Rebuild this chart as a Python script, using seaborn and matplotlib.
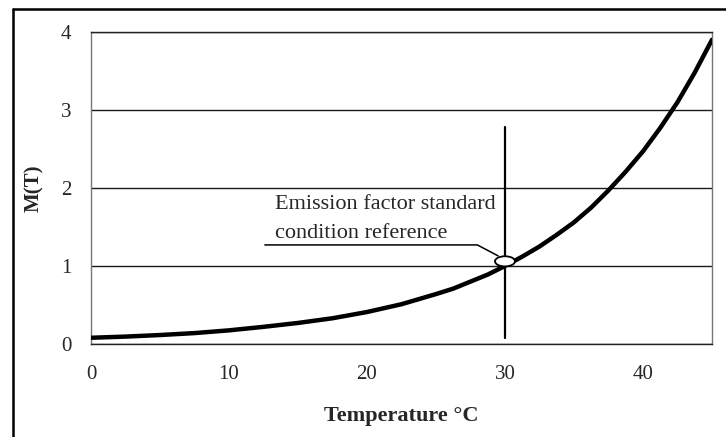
import matplotlib
matplotlib.use("Agg")
import matplotlib.pyplot as plt
import seaborn as sb
import pandas as pd
from matplotlib.patches import Ellipse
from matplotlib.lines import Line2D

# values
temperature = [0, 2.5, 5, 7.5, 10, 12.5, 15, 17.5, 20, 22.5, 25, 26.25, 27.5,
               28.75, 30, 31.25, 32.5, 33.75, 35, 36.25, 37.5, 38.75, 40,
               41.25, 42.5, 43.75, 45]
m_of_t = [0.08, 0.095, 0.115, 0.14, 0.175, 0.22, 0.27, 0.33, 0.41, 0.51, 0.64,
          0.71, 0.80, 0.89, 1.0, 1.12, 1.25, 1.40, 1.56, 1.75, 1.97, 2.21,
          2.47, 2.77, 3.1, 3.48, 3.9]

ref_temp = 30
ref_marker_y = 1.06
ref_line_y = [0.08, 2.78]
note_lines = ["Emission factor standard", "condition reference"]
x_ticks = [0, 10, 20, 30, 40]
y_ticks = [0, 1, 2, 3, 4]

sb.set_theme(style='white')
plt.rcParams['font.family'] = ['Liberation Serif', 'DejaVu Serif']

df = pd.DataFrame({'Temperature': temperature, 'M(T)': m_of_t})

fig = plt.figure(figsize=(7.26, 4.37), dpi=100)
ax = fig.add_axes([0.1253, 0.2128, 0.8554, 0.7140])

sb.lineplot(x='Temperature', y='M(T)', data=df, ax=ax, color='black',
            linewidth=3.2, zorder=3)

ax.set_xlim(0, 45)
ax.set_ylim(0, 4)
ax.set_xticks(x_ticks)
ax.set_yticks(y_ticks)
ax.tick_params(axis='y', direction='out', length=6, width=1, color='#222222',
               labelsize=15, pad=8)
ax.tick_params(axis='x', direction='out', length=5, width=1, color='#222222',
               labelsize=15, pad=10)
ax.grid(axis='y', color='#1a1a1a', linewidth=1)
ax.set_axisbelow(True)
for side in ['left', 'right', 'bottom', 'top']:
    ax.spines[side].set_color('#777777')
    ax.spines[side].set_linewidth(1)
ax.spines['bottom'].set_color('#222222')
ax.spines['top'].set_color('#222222')

ax.set_xlabel('Temperature °C', fontsize=16, fontweight='bold', labelpad=16)
ax.set_ylabel('M(T)', fontsize=15, fontweight='bold', labelpad=12)

# reference condition marker
ax.plot([ref_temp, ref_temp], ref_line_y, color='black', linewidth=1.6, zorder=4)
ax.add_patch(Ellipse((ref_temp, ref_marker_y), 1.45, 0.13, facecolor='white',
                     edgecolor='black', linewidth=1.3, zorder=5))
ax.plot([29.5, 28.0, 12.6], [1.13, 1.27, 1.27], color='black', linewidth=1.1,
        zorder=4)
ax.text(13.3, 1.79, note_lines[0], fontsize=16, va='center', ha='left')
ax.text(13.3, 1.42, note_lines[1], fontsize=16, va='center', ha='left')

# outer frame
fig.add_artist(Line2D([13 / 726, 13 / 726], [0, 1 - 9 / 437], color='black',
                      linewidth=1.8, transform=fig.transFigure))
fig.add_artist(Line2D([13 / 726, 1], [1 - 9 / 437, 1 - 9 / 437], color='black',
                      linewidth=1.8, transform=fig.transFigure))

fig.savefig('out.png', dpi=100)
